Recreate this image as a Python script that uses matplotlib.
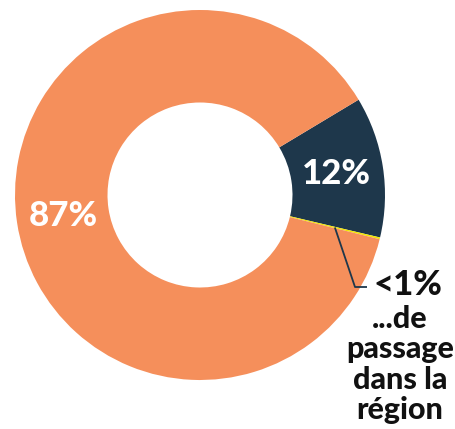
import numpy as np
import matplotlib
matplotlib.use("Agg")
import matplotlib.pyplot as plt

# Data
categories = ["Catégorie A", "Catégorie B", "De passage dans la région"]
values = [12.3, 0.15, 87.55]
value_labels = ["12%", "<1%", "87%"]
colors = ["#1e374b", "#f2e600", "#f58f5b"]

W, H = 456, 429
fig = plt.figure(figsize=(W / 100, H / 100), dpi=100)
ax = fig.add_axes([0, 0, 1, 1])

cx, cy = 200, H - 195
R = 185
wedges, _ = ax.pie(values, colors=colors, startangle=31, counterclock=False,
                   radius=R, center=(cx, cy), frame=True,
                   wedgeprops=dict(width=R * 0.5, linewidth=0))
ax.set_xlim(0, W)
ax.set_ylim(0, H)
ax.set_aspect("equal")
ax.axis("off")

font = ["Lato", "DejaVu Sans"]

def mid_point(w, frac):
    a = np.deg2rad((w.theta1 + w.theta2) / 2)
    return cx + frac * R * np.cos(a), cy + frac * R * np.sin(a)

# In-ring labels
for i in (0, 2):
    x, y = mid_point(wedges[i], 0.745)
    ax.text(x, y, value_labels[i], color="white", fontsize=25, fontweight="black",
            family=font, ha="center", va="center")

# Leader line for small slice
x0, y0 = mid_point(wedges[1], 0.75)
ax.plot([x0, 355, 367], [y0, H - 287, H - 287], color="#1e374b", lw=1.3,
        solid_capstyle="butt")
ax.text(374, H - 285, value_labels[1], color="#111111", fontsize=25,
        fontweight="black", family=font, ha="left", va="center")
ax.text(400, H - 305, "...de\npassage\ndans la\nrégion", color="#111111",
        fontsize=22, fontweight="black", family=font, ha="center", va="top",
        linespacing=1.1)

fig.savefig("out.png", dpi=100)
